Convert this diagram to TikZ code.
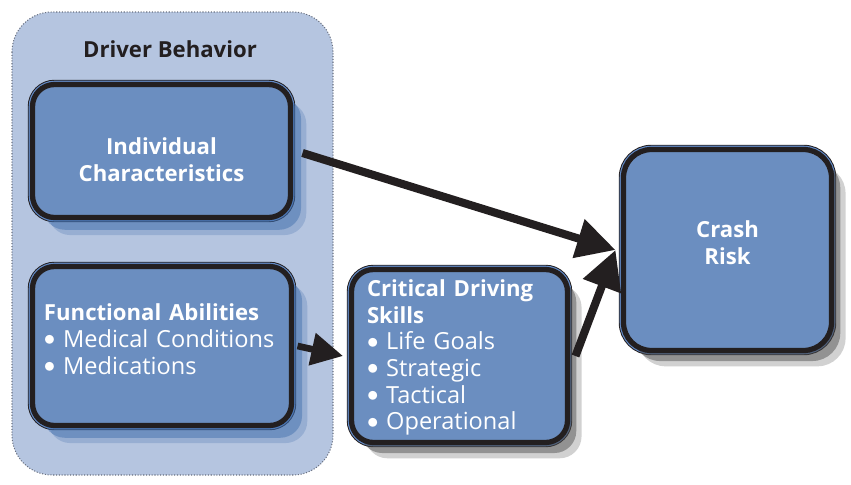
\documentclass[tikz,border=0pt]{standalone}
\usepackage{fontspec}
\setmainfont{Open Sans}
\usetikzlibrary{arrows.meta,shadows}

\definecolor{groupfill}{RGB}{181,197,224}
\definecolor{groupline}{RGB}{105,112,128}
\definecolor{boxfill}{RGB}{107,142,192}
\definecolor{ringblue}{RGB}{98,138,198}
\definecolor{shadeblue}{RGB}{62,108,172}
\definecolor{shadegray}{RGB}{70,70,70}
\definecolor{inkdark}{RGB}{35,31,32}

\newcommand\headfont{\fontsize{12.6}{15.2}\selectfont\bfseries}
\newcommand\listfont{\fontsize{13.4}{15.2}\selectfont}
\newcommand\bul{\raisebox{0.07em}{\scalebox{0.9}{$\bullet$}}\ }

\tikzset{
  panel/.style={rounded corners=0.44cm, fill=boxfill, outer sep=0pt, inner sep=0pt,
    preaction={draw=inkdark, line width=5.4pt},
    preaction={draw=ringblue, line width=4.3pt},
    draw=inkdark, line width=3pt},
  blueshade/.style={
    drop shadow={shadow xshift=9pt, shadow yshift=-10pt, fill=shadeblue, opacity=.25},
    drop shadow={shadow xshift=6pt, shadow yshift=-7pt, fill=shadeblue, opacity=.45}},
  grayshade/.style={
    drop shadow={shadow xshift=8pt, shadow yshift=-9pt, fill=shadegray, opacity=.25},
    drop shadow={shadow xshift=5pt, shadow yshift=-6pt, fill=shadegray, opacity=.45}},
  paneltext/.style={text=white, inner sep=0pt, font=\listfont},
  link/.style={draw=inkdark, line width=4.6pt, -{Triangle[length=22pt,width=22pt]}},
  shortlink/.style={draw=inkdark, line width=3.8pt, -{Triangle[length=18pt,width=18pt]}}
}

\begin{document}
\begin{tikzpicture}
  \useasboundingbox (0,0) rectangle (17.02,-9.7);

  % -------- driver behavior group --------
  \draw[groupline, densely dotted, line width=0.6pt, fill=groupfill, rounded corners=0.8cm]
    (0.24,-0.24) rectangle (6.66,-9.5);
  \node[text=inkdark, font=\headfont] (title) at (3.4,-0.98) {Driver Behavior};

  % -------- boxes --------
  \node[panel, blueshade, minimum width=5.16cm, minimum height=2.66cm] (indiv) at (3.23,-3.02) {};
  \node[panel, blueshade, minimum width=5.18cm, minimum height=3.18cm] (func) at (3.24,-6.92) {};
  \node[panel, grayshade, minimum width=4.32cm, minimum height=3.46cm] (crit) at (9.19,-7.12) {};
  \node[panel, grayshade, rounded corners=0.56cm, minimum width=4.16cm, minimum height=4.02cm] (crash) at (14.55,-5.0) {};

  % -------- box texts --------
  \node[paneltext, font=\headfont, align=center] (indivtext) at ([yshift=-0.18cm]indiv.center)
    {Individual\\Characteristics};
  \node[paneltext, text width=4.72cm, align=left] (functext) at ([yshift=0.14cm]func.center)
    {{\headfont Functional Abilities}\\\bul Medical Conditions\\\bul Medications};
  \node[paneltext, text width=3.7cm, align=left] (crittext) at ([yshift=-0.03cm]crit.center)
    {{\headfont Critical Driving}\\{\headfont Skills}\\\bul Life Goals\\\bul Strategic\\\bul Tactical\\\bul Operational};
  \node[paneltext, font=\headfont, align=center] (crashtext) at ([yshift=0.14cm]crash.center)
    {Crash\\Risk};

  % -------- arrows --------
  \draw[link] ([xshift=0.24cm,yshift=-0.04cm]indiv.east) -- ([xshift=-0.16cm]crash.west);
  \draw[shortlink] ([xshift=0.12cm]func.east) -- ([xshift=-0.17cm]crit.west);
  \draw[link] ([xshift=0.16cm]crit.east) -- ([xshift=-0.16cm]crash.west);
\end{tikzpicture}
\end{document}
